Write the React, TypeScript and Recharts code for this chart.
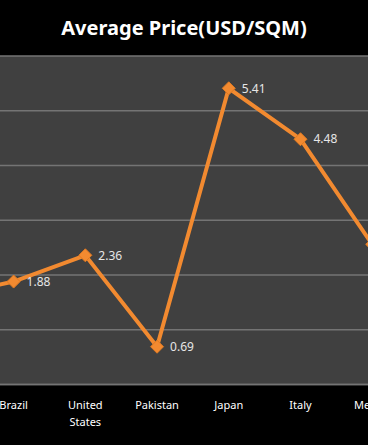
import React from 'react';
import { LineChart, Line, XAxis, YAxis, CartesianGrid, LabelList } from 'recharts';

const categories = ['China', 'Brazil', 'United States', 'Pakistan', 'Japan', 'Italy', 'Mexico'];
const prices = [1.6, 1.88, 2.36, 0.69, 5.41, 4.48, 2.56];
const yTicks = [0, 1, 2, 3, 4, 5, 6];

const data = categories.map((c, i) => ({ country: c, price: prices[i] }));

const FONT = '"Noto Sans", "DejaVu Sans", sans-serif';

const Diamond = (props: any) => {
  const { cx, cy } = props;
  if (cx == null || cy == null) return null;
  const r = 6.5;
  return (
    <g>
      <polygon
        points={`${cx},${cy - r} ${cx + r},${cy} ${cx},${cy + r} ${cx - r},${cy}`}
        fill="#F28A30"
        stroke="#E07A22"
        strokeWidth={1}
      />
    </g>
  );
};

const Tick = (props: any) => {
  const { x, y, payload } = props;
  const words = String(payload.value).split(' ');
  return (
    <text x={x} y={y} textAnchor="middle" fill="#ffffff" fontSize={11} fontFamily={FONT}>
      {words.map((w: string, i: number) => (
        <tspan key={i} x={x} dy={i === 0 ? 16 : 17}>
          {w}
        </tspan>
      ))}
    </text>
  );
};

export default function App() {
  return (
    <div
      style={{
        position: 'fixed',
        left: 0,
        top: 0,
        width: 368,
        height: 445,
        overflow: 'hidden',
        background: '#000000',
      }}
    >
      <div style={{ position: 'absolute', left: -100, top: 0 }}>
        <LineChart
          width={508}
          height={445}
          data={data}
          margin={{ top: 56, right: 0, bottom: 30.5, left: 6.1 }}
        >
          <CartesianGrid vertical={false} fill="#404040" stroke="#747474" strokeWidth={1.5} />
          <XAxis
            dataKey="country"
            padding={{ left: 35.8, right: 35.8 }}
            tickLine={false}
            axisLine={{ stroke: '#747474', strokeWidth: 1.5 }}
            interval={0}
            tick={<Tick />}
          />
          <YAxis hide domain={[0, 6]} ticks={yTicks} />
          <Line
            dataKey="price"
            stroke="#F28A30"
            strokeWidth={4}
            dot={<Diamond />}
            activeDot={false}
            isAnimationActive={false}
          >
            <LabelList
              dataKey="price"
              position="right"
              offset={13}
              fill="#e6e6e6"
              fontSize={12}
              fontFamily={FONT}
              formatter={(v: any) => Number(v).toFixed(2)}
            />
          </Line>
        </LineChart>
      </div>
      <div
        style={{
          position: 'absolute',
          left: 0,
          top: 14,
          width: 368,
          textAlign: 'center',
          color: '#ffffff',
          fontFamily: FONT,
          fontWeight: 700,
          fontSize: 20,
          lineHeight: '28px',
        }}
      >
        Average Price(USD/SQM)
      </div>
    </div>
  );
}
